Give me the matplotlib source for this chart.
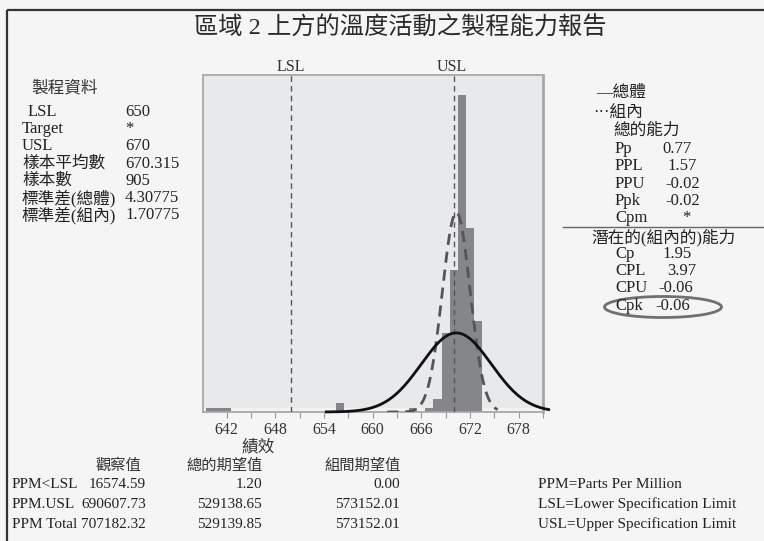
import numpy as np
import matplotlib
matplotlib.use("Agg")
import matplotlib.pyplot as plt
from matplotlib.patches import Ellipse

# process data
lsl = 650
usl = 670
mean = 670.315
n_total = 905
sd_overall = 4.30775
sd_within = 1.70775

# histogram of 績效 (bin centers, counts)
bin_centers = [640, 641, 642, 656, 665, 667, 668, 669, 670, 671, 672, 673]
bin_counts = [4, 4, 4, 10, 4, 4, 14, 84, 150, 336, 195, 96]

x_ticks = [642, 645, 648, 651, 654, 657, 660, 663, 666, 669, 672, 675, 678, 681]
x_ticklabels = ['642', '', '648', '', '654', '', '660', '', '666', '', '672', '', '678', '']

info_labels = ['LSL', 'Target', 'USL', '樣本平均數', '樣本數', '標準差(總體)', '標準差(組內)']
info_values = ['650', '*', '670', '670.315', '905', '4.30775', '1.70775']

overall_labels = ['Pp', 'PPL', 'PPU', 'Ppk', 'Cpm']
overall_values = ['0.77', '1.57', '-0.02', '-0.02', '*']
within_labels = ['Cp', 'CPL', 'CPU', 'Cpk']
within_values = ['1.95', '3.97', '-0.06', '-0.06']

ppm_rows = ['PPM<LSL', 'PPM.USL', 'PPM Total']
ppm_observed = ['16574.59', '690607.73', '707182.32']
ppm_overall = ['1.20', '529138.65', '529139.85']
ppm_within = ['0.00', '573152.01', '573152.01']
notes = ['PPM=Parts Per Million', 'LSL=Lower Specification Limit',
         'USL=Upper Specification Limit']

FONTS = ['Liberation Serif', 'Noto Sans CJK TC']
plt.rcParams['font.family'] = FONTS

W, H = 764, 541
fig = plt.figure(figsize=(W / 100, H / 100), dpi=100, facecolor='#f5f5f5')

# overlay in pixel coordinates for the report texts
ov = fig.add_axes([0, 0, 1, 1])
ov.set_xlim(0, W)
ov.set_ylim(H, 0)
ov.axis('off')
ov.patch.set_alpha(0)

# report frame
ov.plot([7, W], [10, 10], color='#333333', lw=1.6, solid_capstyle='butt')
ov.plot([7, 7], [10, H], color='#333333', lw=1.6, solid_capstyle='butt')

ov.text(400, 28, '區域 2 上方的溫度活動之製程能力報告', fontsize=17.5,
        ha='center', va='center', color='#2a2a2a', fontweight='light')

# main histogram
ax = fig.add_axes([203 / W, 1 - 412 / H, 340 / W, 337 / H])
ax.set_facecolor('#e8e9eb')
ax.axhspan(0, 4.2, color='#f2f2f3', lw=0, zorder=1)
ax.bar(bin_centers, bin_counts, width=1.0, color='#858689', linewidth=0, zorder=2)

xs = np.linspace(654.3, 681.7, 300)
ys = n_total / (sd_overall * np.sqrt(2 * np.pi)) * np.exp(-0.5 * ((xs - mean) / sd_overall) ** 2)
ax.plot(xs, ys, color='#111111', lw=2.0, zorder=4, clip_on=False)

xw = np.linspace(661.8, 675.4, 300)
yw = n_total / (sd_within * np.sqrt(2 * np.pi)) * np.exp(-0.5 * ((xw - mean) / sd_within) ** 2)
ax.plot(xw, yw, color='#555555', lw=2.0, ls=(0, (4, 2.5)), zorder=3)

for spec in (lsl, usl):
    ax.axvline(spec, color='#555555', lw=1.0, ls=(0, (4, 3)), zorder=3)

ax.set_xlim(639.1, 681)
ax.set_ylim(0, 357)
ax.set_yticks([])
ax.set_xticks(x_ticks)
ax.set_xticklabels(x_ticklabels, fontsize=11.5, color='#333333')
ax.tick_params(axis='x', length=4, color='#999999', pad=3)
for side, sp in ax.spines.items():
    sp.set_color('#a8a8a8')
    sp.set_linewidth(1.3)
ax.spines['right'].set_linewidth(2.0)

ov.text(291, 67, 'LSL', fontsize=11.5, ha='center', va='center', color='#333333')
ov.text(452, 67, 'USL', fontsize=11.5, ha='center', va='center', color='#333333')
ov.text(258, 447, '績效', fontsize=12, ha='center', va='center', color='#333333')

# process data block
ov.text(31, 88, '製程資料', fontsize=12, ha='left', va='center', color='#333333')
for i, (lab, val) in enumerate(zip(info_labels, info_values)):
    y = 112 + i * 17.2
    x = 28 if lab == 'LSL' else 22
    ov.text(x, y, lab, fontsize=12, ha='left', va='center', color='#222222')
    ov.text(125, y, val, fontsize=12, ha='left', va='center', color='#222222')

# legend and capability indices
ov.text(596, 93, '—總體', fontsize=12, ha='left', va='center', color='#222222')
ov.text(593, 113, '···組內', fontsize=12, ha='left', va='center', color='#222222')
ov.text(613, 131, '總的能力', fontsize=12, ha='left', va='center', color='#222222')
overall_x = [662, 667, 665, 665, 682]
for i, (lab, val) in enumerate(zip(overall_labels, overall_values)):
    y = 149 + i * 17.3
    ov.text(615, y, lab, fontsize=12, ha='left', va='center', color='#222222')
    ov.text(overall_x[i], y, val, fontsize=12, ha='left', va='center', color='#222222')

ov.plot([563, W], [227, 227], color='#666666', lw=1.0)
ov.text(591, 238, '潛在的(組內的)能力', fontsize=12, ha='left', va='center', color='#222222')
within_x = [662, 667, 658, 655]
for i, (lab, val) in enumerate(zip(within_labels, within_values)):
    y = 254 + i * 17.2
    ov.text(615, y, lab, fontsize=12, ha='left', va='center', color='#222222')
    ov.text(within_x[i], y, val, fontsize=12, ha='left', va='center', color='#222222')

ov.add_patch(Ellipse((663, 307), 117, 21, fill=False, edgecolor='#707070', lw=2.0))

# PPM table
headers = [('觀察值', 118), ('總的期望值', 225), ('組間期望值', 363)]
for txt, x in headers:
    ov.text(x, 466, txt, fontsize=11, ha='center', va='center', color='#333333')
for i in range(3):
    y = 485 + i * 19.5
    ov.text(12, y, ppm_rows[i], fontsize=11, ha='left', va='center', color='#222222')
    ov.text(146, y, ppm_observed[i], fontsize=11, ha='right', va='center', color='#222222')
    ov.text(262, y, ppm_overall[i], fontsize=11, ha='right', va='center', color='#222222')
    ov.text(400, y, ppm_within[i], fontsize=11, ha='right', va='center', color='#222222')
    ov.text(538, y, notes[i], fontsize=11, ha='left', va='center', color='#222222')

fig.savefig('out.png', dpi=100, facecolor=fig.get_facecolor())
